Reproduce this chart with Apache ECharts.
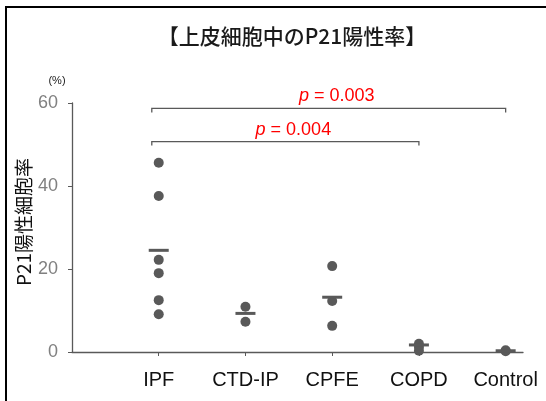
<!DOCTYPE html>
<html><head><meta charset="utf-8">
<script src="https://cdn.jsdelivr.net/npm/echarts@6/dist/echarts.min.js"></script>
<style>html,body{margin:0;padding:0;background:#fff}#c{width:546px;height:401px}</style>
</head><body><div id="c"></div>
<script>
const categories = ['IPF', 'CTD-IP', 'CPFE', 'COPD', 'Control'];
const ipfValues = [45.6, 37.6, 22.2, 19.0, 12.5, 9.1];
const ctdipValues = [10.9, 7.3];
const cpfeValues = [20.7, 12.3, 6.3];
const copdValues = [2.0, 1.2, 0.3];
const controlValues = [0.4, 0.2];
const meanValues = [24.5, 9.3, 13.2, 1.7, 0.3];
const yTicks = [0, 20, 40, 60];
const comparisons = [
  { from: 'IPF', to: 'Control', p: '0.003', y: 58.7 },
  { from: 'IPF', to: 'COPD', p: '0.004', y: 50.7 }
];
const titleText = '【上皮細胞中のP21陽性率】';
const yName = 'P21陽性細胞率';

const groups = [ipfValues, ctdipValues, cpfeValues, copdValues, controlValues];
const points = [];
groups.forEach((g, i) => g.forEach(v => points.push([i + 1, v])));
const means = meanValues.map((v, i) => [i + 1, v]);
const brackets = comparisons.map(c => [categories.indexOf(c.from) + 1, categories.indexOf(c.to) + 1, c.y, c.p]);

const chart = echarts.init(document.getElementById('c'));
chart.setOption({
  animation: false,
  backgroundColor: '#fff',
  title: {
    text: titleText, left: 287, top: 19, textAlign: 'center',
    textStyle: { fontFamily: 'Noto Sans CJK JP', fontSize: 21, fontWeight: 500, color: '#1a1a1a', lineHeight: 24 }
  },
  grid: { left: 72, right: 23, top: 103, bottom: 49 },
  xAxis: {
    type: 'value', min: 0, max: 5.2, interval: 1,
    splitLine: { show: false },
    axisLine: { lineStyle: { color: '#595959', width: 1.3 } },
    axisTick: { show: true, length: 4, customValues: [1, 2, 3, 4, 5], lineStyle: { color: '#595959' } },
    axisLabel: {
      customValues: [1, 2, 3, 4, 5],
      formatter: v => categories[Math.round(v) - 1] || '',
      margin: 18, color: '#111', fontFamily: 'Liberation Sans', fontSize: 20
    }
  },
  yAxis: {
    type: 'value', min: 0, max: 60, interval: 20,
    splitLine: { show: false },
    axisLine: { show: true, lineStyle: { color: '#595959', width: 1.3 } },
    axisTick: { show: true, length: 4, lineStyle: { color: '#595959' } },
    axisLabel: {
      customValues: yTicks, margin: 14, color: '#808080',
      fontFamily: 'Liberation Sans', fontSize: 18
    }
  },
  graphic: [
    { type: 'polyline', shape: { points: [[6, 401], [6, 7], [546, 7]] }, style: { stroke: '#000', lineWidth: 2, fill: null } },
    { type: 'text', x: 57, y: 81, style: { text: '(%)', fontSize: 11, fontFamily: 'Liberation Sans', fill: '#222', align: 'center', verticalAlign: 'middle' } },
    { type: 'text', x: 24, y: 222, rotation: Math.PI / 2, style: { text: yName, fontSize: 19, fontFamily: 'Noto Sans CJK JP', fill: '#111', align: 'center', verticalAlign: 'middle' } }
  ],
  series: [
    {
      type: 'scatter', data: points, symbol: 'circle', symbolSize: 10,
      itemStyle: { color: '#595959', opacity: 1 }, z: 3
    },
    {
      type: 'scatter', data: means, symbol: 'rect', symbolSize: [20, 3],
      itemStyle: { color: '#595959', opacity: 1 }, z: 4
    },
    {
      type: 'custom', data: brackets, z: 5,
      renderItem: function (params, api) {
        const a = api.coord([api.value(0) - 0.08, api.value(2)]);
        const b = api.coord([api.value(1), api.value(2)]);
        const drop = 4;
        const mid = (a[0] + b[0]) / 2 + 8;
        return {
          type: 'group',
          children: [
            { type: 'polyline', shape: { points: [[a[0], a[1] + drop], a, b, [b[0], b[1] + drop]] }, style: { stroke: '#595959', lineWidth: 1.3, fill: null } },
            { type: 'text', x: mid, y: a[1] - 12, style: {
              text: '{i|p} = ' + brackets[params.dataIndex][3],
              rich: { i: { fontStyle: 'italic', fontSize: 18, fontFamily: 'Liberation Sans', fill: '#ff0000' } },
              fontSize: 18, fontFamily: 'Liberation Sans', fill: '#ff0000', align: 'center', verticalAlign: 'middle' } }
          ]
        };
      }
    }
  ]
});
</script></body></html>
